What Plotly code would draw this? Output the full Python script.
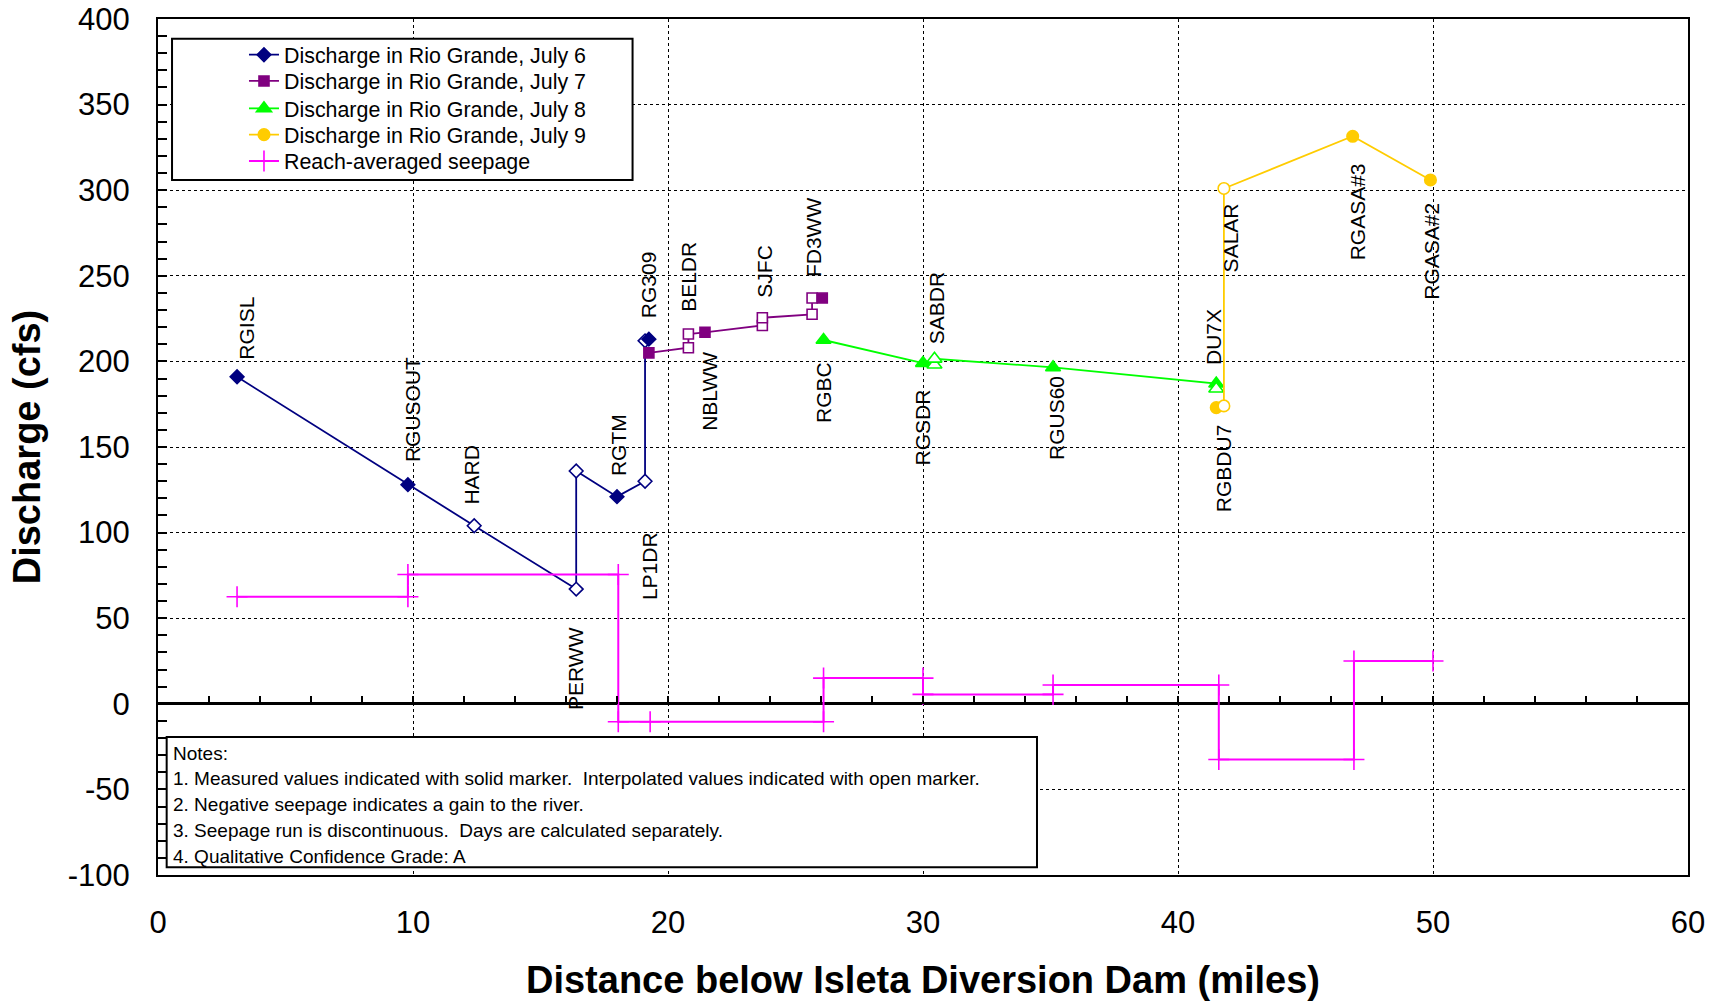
import plotly.graph_objects as go

FONT = "Liberation Sans, Arial, Helvetica, sans-serif"

# ---------------- data ----------------
# Discharge in Rio Grande (cfs) vs distance below Isleta Diversion Dam (miles)
# measured flag: 1 = measured (solid marker), 0 = interpolated (open marker)
jul6_x = [3.1, 9.8, 12.4, 16.4, 16.4, 18.0, 19.1, 19.1, 19.25]
jul6_y = [191, 128, 104, 67, 136, 121, 130, 212, 213]
jul6_measured = [1, 1, 0, 0, 0, 1, 0, 0, 1]

jul7_x = [19.25, 20.8, 20.8, 21.45, 23.7, 23.7, 25.65, 25.65, 26.05]
jul7_y = [205, 208, 216, 217, 221, 225.5, 227.5, 237, 237]
jul7_measured = [1, 0, 0, 1, 0, 0, 0, 0, 1]

jul8_x = [26.1, 30.0, 30.45, 30.45, 35.1, 41.5, 41.5]
jul8_y = [212.5, 199, 198, 201.5, 196.5, 187, 184]
jul8_measured = [1, 1, 0, 0, 1, 1, 0]

jul9_x = [41.5, 41.8, 41.8, 46.85, 49.9]
jul9_y = [173, 174, 301, 331.5, 306]
jul9_measured = [1, 0, 0, 1, 1]

# Reach-averaged seepage (step line)
seep_x = [3.1, 9.8, 9.8, 18.05, 18.05, 19.3, 26.1, 26.1, 30.0, 30.0, 35.1, 35.1,
          41.6, 41.6, 46.9, 46.9, 50.0]
seep_y = [62.5, 62.5, 75.5, 75.5, -10.5, -10.5, -10.5, 15, 15, 5.5, 5.5, 11, 11,
          -32.5, -32.5, 25, 25]

# Site labels
site_names = ["RGISL", "RGUSOUT", "HARD", "PERWW", "RGTM", "LP1DR", "RG309", "BELDR",
              "NBLWW", "SJFC", "FD3WW", "RGBC", "RGSDR", "SABDR", "RGUS60", "DU7X",
              "RGBDU7", "SALAR", "RGASA#3", "RGASA#2"]
site_label_x = [3.48, 9.98, 12.3, 16.35, 18.09, 19.3, 19.23, 20.8, 21.65, 23.78, 25.7,
                26.07, 30.0, 30.56, 35.24, 41.39, 41.78, 42.07, 47.05, 49.95]
site_label_y = [200, 140, 115, -4.5, 132, 59.5, 224, 228, 158, 236, 248, 163, 138,
                209, 141, 197, 111, 251, 258, 235]

series_names = ["Discharge in Rio Grande, July 6", "Discharge in Rio Grande, July 7",
                "Discharge in Rio Grande, July 8", "Discharge in Rio Grande, July 9",
                "Reach-averaged seepage"]

y_tickvals = [-100, -50, 0, 50, 100, 150, 200, 250, 300, 350, 400]
y_ticktext = ["-100", "-50", "0", "50", "100", "150", "200", "250", "300", "350", "400"]

notes_lines = [
    "Notes:",
    "1. Measured values indicated with solid marker.  Interpolated values indicated with open marker.",
    "2. Negative seepage indicates a gain to the river.",
    "3. Seepage run is discontinuous.  Days are calculated separately.",
    "4. Qualitative Confidence Grade: A",
]

# ---------------- layout constants ----------------
LEGEND_X = 0.0562
LEGEND_YS = [0.9582, 0.9275, 0.8955, 0.8648, 0.8339]
NOTES_X = 0.5
NOTES_Y0 = -28.9
NOTES_DY = -15.0

# ---------------- figure ----------------
fig = go.Figure()
legend_ids = ["legend", "legend2", "legend3", "legend4", "legend5"]

def add_series(xs, ys, measured, idx, color, symbol, size):
    fills = [color if m else "white" for m in measured]
    fig.add_trace(go.Scatter(
        x=xs, y=ys, name=series_names[idx], mode="lines+markers", legend=legend_ids[idx],
        line=dict(color=color, width=1.8),
        marker=dict(symbol=symbol, size=size, color=fills,
                    line=dict(color=color, width=1.6)),
    ))

add_series(jul6_x, jul6_y, jul6_measured, 0, "#000080", "diamond", 10.5)
add_series(jul7_x, jul7_y, jul7_measured, 1, "#800080", "square", 10)
add_series(jul8_x, jul8_y, jul8_measured, 2, "#00FF00", "triangle-up", 13)
add_series(jul9_x, jul9_y, jul9_measured, 3, "#FFCC00", "circle", 11.5)

fig.add_trace(go.Scatter(
    x=seep_x, y=seep_y, name=series_names[4], mode="lines+markers", legend=legend_ids[4],
    line=dict(color="#FF00FF", width=2),
    marker=dict(symbol="cross-thin", size=15, color="#FF00FF",
                line=dict(color="#FF00FF", width=1.6)),
))

# empty trace so that the tick axis along y = 0 is rendered
fig.add_trace(go.Scatter(x=[], y=[], xaxis="x2", showlegend=False, hoverinfo="skip"))

annotations = []
for name, lx, ly in zip(site_names, site_label_x, site_label_y):
    annotations.append(dict(
        x=lx, y=ly, xref="x", yref="y", text=name, textangle=-90,
        showarrow=False, xanchor="center", yanchor="bottom",
        font=dict(family=FONT, size=21, color="black"),
    ))

for i, line in enumerate(notes_lines):
    annotations.append(dict(
        x=NOTES_X, y=NOTES_Y0 + i * NOTES_DY, xref="x", yref="y", text=line,
        showarrow=False, xanchor="left", yanchor="middle", align="left",
        font=dict(family=FONT, size=19, color="black"),
    ))

shapes = [
    # legend box
    dict(type="rect", xref="x", yref="y", x0=0.55, x1=18.61, y0=305.9, y1=388.5,
         fillcolor="white", line=dict(color="black", width=2), layer="above"),
    # notes box
    dict(type="rect", xref="x", yref="y", x0=0.34, x1=34.47, y0=-95.5, y1=-19.4,
         fillcolor="white", line=dict(color="black", width=2), layer="above"),
]

legend_layouts = {}
for lid, ly in zip(legend_ids, LEGEND_YS):
    legend_layouts[lid] = dict(
        x=LEGEND_X, y=ly, xanchor="left", yanchor="middle",
        bgcolor="rgba(0,0,0,0)", borderwidth=0,
        font=dict(family=FONT, size=21.4, color="black"),
    )

fig.update_layout(
    width=1719, height=1003,
    margin=dict(l=158, r=31, t=19, b=128, autoexpand=False),
    paper_bgcolor="white", plot_bgcolor="white",
    font=dict(family=FONT, color="black"),
    showlegend=True,
    annotations=annotations,
    shapes=shapes,
    xaxis=dict(
        range=[0, 60], dtick=10, tick0=0, automargin=False,
        showgrid=True, gridcolor="black", griddash="dot", gridwidth=1,
        showline=True, mirror=True, linecolor="black", linewidth=2,
        ticks="", zeroline=False,
        tickfont=dict(family=FONT, size=31, color="black"),
        ticklabelstandoff=19,
        title=dict(text="Distance below Isleta Diversion Dam (miles)",
                   font=dict(family=FONT, size=38, color="black", weight="bold"),
                   standoff=27),
    ),
    xaxis2=dict(
        range=[0, 60], overlaying="x", anchor="free", position=0.2, side="bottom",
        dtick=2, tick0=0, ticks="inside", ticklen=8, tickwidth=2, tickcolor="black",
        showticklabels=False, showgrid=False, showline=False, zeroline=False,
        automargin=False,
    ),
    yaxis=dict(
        range=[-100, 400], tickmode="array", tickvals=y_tickvals, ticktext=y_ticktext,
        automargin=False,
        showgrid=True, gridcolor="black", griddash="dot", gridwidth=1,
        showline=True, mirror=True, linecolor="black", linewidth=2,
        zeroline=True, zerolinecolor="black", zerolinewidth=2.5,
        ticks="inside", ticklen=9, tickwidth=2, tickcolor="black",
        minor=dict(dtick=10, tick0=0, ticks="inside", ticklen=9, tickwidth=2,
                   tickcolor="black", showgrid=False),
        tickfont=dict(family=FONT, size=31, color="black"),
        ticklabelstandoff=20,
        title=dict(text="Discharge (cfs)",
                   font=dict(family=FONT, size=38, color="black", weight="bold"),
                   standoff=15),
    ),
    **legend_layouts,
)

fig.write_html("out.html", config={"displayModeBar": False},
               post_script="document.body.style.margin='0';")
